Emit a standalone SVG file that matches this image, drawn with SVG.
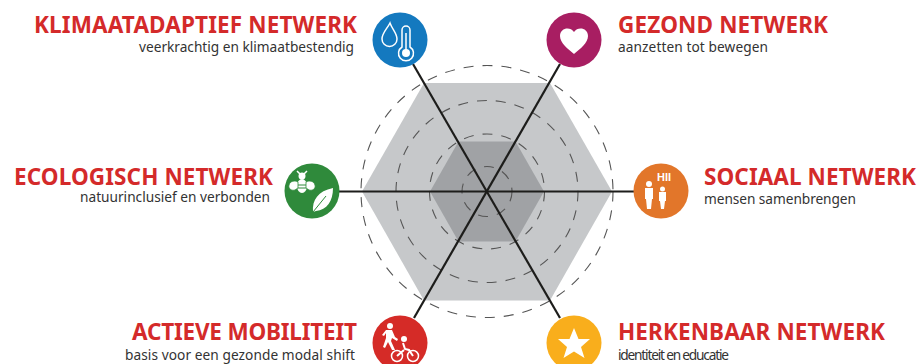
<svg xmlns="http://www.w3.org/2000/svg" width="917" height="364" viewBox="0 0 917 364">
<style>
.t{font-family:"Noto Sans","Open Sans","Liberation Sans",sans-serif;font-weight:700;font-size:22.500px;fill:#d42a2a}
.s{font-family:"Noto Sans","Open Sans","Liberation Sans",sans-serif;font-size:13.700px;fill:#333}
.e{text-anchor:end}
.c{fill:none;stroke:#555;stroke-width:1.100;stroke-dasharray:10 9}
.l{stroke:#1d1d1b;stroke-width:2.200;fill:none}
.w{fill:#fff}
.o{fill:none;stroke:#fff;stroke-width:1.500}
</style>
<rect width="917" height="364" fill="#fff"/>
<g id="chart">
<polygon points="362,191.500 424,83 550,83 612,191.500 550,300.500 424,300.500" fill="#c6c8ca"/>
<polygon points="430,191.500 458.500,141.500 515.500,141.500 544,191.500 515.500,241.500 458.500,241.500" fill="#a0a2a5"/>
<circle class="c" cx="487" cy="191.500" r="126"/>
<circle class="c" cx="487" cy="191.500" r="91"/>
<circle class="c" cx="487" cy="191.500" r="57.500"/>
<circle class="c" cx="487" cy="191.500" r="25"/>
</g>
<g id="connectors">
<line class="l" x1="413" y1="64" x2="560" y2="318"/>
<line class="l" x1="560" y1="64" x2="414" y2="318"/>
<line class="l" x1="339" y1="191.500" x2="634" y2="191.500"/>
</g>
<g id="klimaat">
<circle cx="400" cy="40" r="27.500" fill="#1479bf"/>
<path class="o" d="M390 23c-3 6-8 10-8 16a7.500 7.500 0 0 0 15 0c0-6-5-10-7-16z"/>
<path class="o" d="M402 30a4 4 0 0 1 8 0v17a7.500 7.500 0 1 1-8 0z"/>
<circle class="w" cx="406" cy="53" r="4"/>
<path class="o" d="M406 33v18"/>
<text class="t e" x="357" y="33" textLength="323">KLIMAATADAPTIEF NETWERK</text>
<text class="s e" x="354" y="52" textLength="215">veerkrachtig en klimaatbestendig</text>
</g>
<g id="gezond">
<circle cx="574" cy="40" r="27.500" fill="#a81e62"/>
<path class="w" d="M574 54c-6-5-14-11-14-18 0-8 10-10 14-4 4-6 14-4 14 4 0 7-8 13-14 18z"/>
<text class="t" x="618" y="33" textLength="210">GEZOND NETWERK</text>
<text class="s" x="618" y="52" textLength="150">aanzetten tot bewegen</text>
</g>
<g id="ecologisch">
<circle cx="312" cy="191" r="27.500" fill="#2f8a3b"/>
<ellipse class="w" cx="302" cy="186" rx="5" ry="7"/>
<circle class="w" cx="302" cy="176" r="3.500"/>
<path d="M298 182c-3-2-8-1-9 3s3 6 6 5l3-2zM306 182c3-2 8-1 9 3s-3 6-6 5l-3-2z" fill="#fff" stroke="#2f8a3b" stroke-width="0.800"/>
<path d="M297 171l3 3M307 171l-3 3" stroke="#fff" stroke-width="1.500"/>
<path d="M298 185h8M298 188h8" stroke="#2f8a3b" stroke-width="1"/>
<path class="w" d="M313 212c-1-12 5-21 20-24 0 13-6 22-17 23z"/>
<path d="M313 212l13-16" stroke="#2f8a3b" stroke-width="1"/>
<text class="t e" x="273" y="185" textLength="259">ECOLOGISCH NETWERK</text>
<text class="s e" x="270" y="202" textLength="190">natuurinclusief en verbonden</text>
</g>
<g id="sociaal">
<circle cx="661" cy="191" r="27.500" fill="#e2762a"/>
<text x="664" y="181" text-anchor="middle" font-family="Liberation Sans, sans-serif" font-weight="700" font-size="11" fill="#fff">HII</text>
<circle class="w" cx="649" cy="184" r="3"/>
<path class="w" d="M645 188h8v11h-1l-1 10h-4l-1-10h-1z"/>
<circle class="w" cx="662.500" cy="189" r="2.500"/>
<path class="w" d="M659 192h7v9h-1l-1 8h-3l-1-8h-1z"/>
<text class="t" x="704" y="185" textLength="212">SOCIAAL NETWERK</text>
<text class="s" x="704" y="204" textLength="152">mensen samenbrengen</text>
</g>
<g id="mobiliteit">
<circle cx="400" cy="343" r="27.500" fill="#d52b27"/>
<circle class="w" cx="390" cy="326" r="3"/>
<path class="w" d="M386 330h6l3 7 3 2-1 2-5-3-1 3 4 9h-3l-4-8-3 6-2-1 3-9v-5l-2 3-2-1z"/>
<circle class="o" cx="397" cy="356" r="5.500"/>
<circle class="o" cx="413" cy="356" r="5.500"/>
<circle class="w" cx="404" cy="339" r="3"/>
<path fill="none" stroke="#fff" stroke-width="2" d="M403 343l2 6 4 1 4 6M397 356l7-6"/>
<text class="t e" x="357" y="340" textLength="225">ACTIEVE MOBILITEIT</text>
<text class="s e" x="355" y="360" textLength="230">basis voor een gezonde modal shift</text>
</g>
<g id="herkenbaar">
<circle cx="574" cy="343" r="27.500" fill="#f9ae1c"/>
<polygon class="w" points="574,328 578.500,339 590,339 581,347 584.500,358 574,351.500 563.500,358 567,347 558,339 569.500,339"/>
<text class="t" x="618" y="340" textLength="267">HERKENBAAR NETWERK</text>
<text class="s" x="618" y="360" textLength="111">identiteit en educatie</text>
</g>
</svg>
